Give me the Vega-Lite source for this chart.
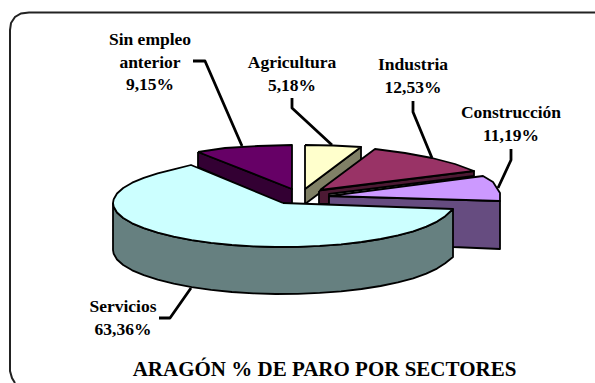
{"$schema":"https://vega.github.io/schema/vega-lite/v6.json","width":595,"height":383,"padding":0,"autosize":{"type":"none"},"background":"white","view":{"stroke":null},
"datasets":{
"faces":[
{"f":"Sin empleo side","n":1,"x":198,"y":152},{"f":"Sin empleo side","n":2,"x":292,"y":189},{"f":"Sin empleo side","n":3,"x":292,"y":204},{"f":"Sin empleo side","n":4,"x":283,"y":204},{"f":"Sin empleo side","n":5,"x":198,"y":167},{"f":"Sin empleo side","n":6,"x":198,"y":152},
{"f":"Sin empleo top","n":1,"x":198,"y":152},{"f":"Sin empleo top","n":2,"x":225,"y":148},{"f":"Sin empleo top","n":3,"x":258,"y":146},{"f":"Sin empleo top","n":4,"x":292,"y":145},{"f":"Sin empleo top","n":5,"x":292,"y":189},{"f":"Sin empleo top","n":6,"x":198,"y":152},
{"f":"Agricultura side","n":1,"x":305,"y":189},{"f":"Agricultura side","n":2,"x":361,"y":147},{"f":"Agricultura side","n":3,"x":361,"y":162},{"f":"Agricultura side","n":4,"x":305,"y":204},{"f":"Agricultura side","n":5,"x":305,"y":189},
{"f":"Agricultura top","n":1,"x":305,"y":145},{"f":"Agricultura top","n":2,"x":333,"y":145.5},{"f":"Agricultura top","n":3,"x":361,"y":147},{"f":"Agricultura top","n":4,"x":305,"y":189},{"f":"Agricultura top","n":5,"x":305,"y":145},
{"f":"Industria side","n":1,"x":319,"y":191},{"f":"Industria side","n":2,"x":323,"y":190},{"f":"Industria side","n":3,"x":474,"y":171},{"f":"Industria side","n":4,"x":474,"y":176},{"f":"Industria side","n":5,"x":329,"y":194},{"f":"Industria side","n":6,"x":329,"y":204},{"f":"Industria side","n":7,"x":319,"y":204},{"f":"Industria side","n":8,"x":319,"y":191},
{"f":"Industria top","n":1,"x":320,"y":190},{"f":"Industria top","n":2,"x":375,"y":149},{"f":"Industria top","n":3,"x":405,"y":153},{"f":"Industria top","n":4,"x":432,"y":158},{"f":"Industria top","n":5,"x":455,"y":164},{"f":"Industria top","n":6,"x":474,"y":171},{"f":"Industria top","n":7,"x":320,"y":190},
{"f":"Construcción side","n":1,"x":329,"y":196},{"f":"Construcción side","n":2,"x":500,"y":201},{"f":"Construcción side","n":3,"x":500,"y":249},{"f":"Construcción side","n":4,"x":453,"y":247},{"f":"Construcción side","n":5,"x":329,"y":220},{"f":"Construcción side","n":6,"x":329,"y":196},
{"f":"Construcción top","n":1,"x":329,"y":196},{"f":"Construcción top","n":2,"x":483,"y":176},{"f":"Construcción top","n":3,"x":493,"y":182},{"f":"Construcción top","n":4,"x":500,"y":193},{"f":"Construcción top","n":5,"x":500,"y":201},{"f":"Construcción top","n":6,"x":329,"y":196},
{"f":"Servicios side","n":1,"x":113,"y":203},{"f":"Servicios side","n":2,"x":113.7,"y":206.8},{"f":"Servicios side","n":3,"x":117,"y":212.5},{"f":"Servicios side","n":4,"x":123.2,"y":218},{"f":"Servicios side","n":5,"x":132.2,"y":223.3},{"f":"Servicios side","n":6,"x":143.8,"y":228.2},{"f":"Servicios side","n":7,"x":157.7,"y":232.7},{"f":"Servicios side","n":8,"x":173.7,"y":236.7},{"f":"Servicios side","n":9,"x":191.7,"y":240.1},{"f":"Servicios side","n":10,"x":211.1,"y":242.9},{"f":"Servicios side","n":11,"x":231.9,"y":245},{"f":"Servicios side","n":12,"x":253.4,"y":246.3},{"f":"Servicios side","n":13,"x":275.6,"y":247},{"f":"Servicios side","n":14,"x":297.8,"y":246.8},{"f":"Servicios side","n":15,"x":319.7,"y":245.9},{"f":"Servicios side","n":16,"x":341.1,"y":244.4},{"f":"Servicios side","n":17,"x":361.5,"y":242},{"f":"Servicios side","n":18,"x":380.6,"y":239},{"f":"Servicios side","n":19,"x":397.9,"y":235.4},{"f":"Servicios side","n":20,"x":413.2,"y":231.3},{"f":"Servicios side","n":21,"x":426.3,"y":226.6},{"f":"Servicios side","n":22,"x":437,"y":221.6},{"f":"Servicios side","n":23,"x":445.2,"y":216.2},{"f":"Servicios side","n":24,"x":453,"y":209},
{"f":"Servicios side","n":25,"x":453,"y":257},{"f":"Servicios side","n":26,"x":445.2,"y":263.2},{"f":"Servicios side","n":27,"x":437,"y":268.6},{"f":"Servicios side","n":28,"x":426.3,"y":273.6},{"f":"Servicios side","n":29,"x":413.2,"y":278.3},{"f":"Servicios side","n":30,"x":397.9,"y":282.4},{"f":"Servicios side","n":31,"x":380.6,"y":286},{"f":"Servicios side","n":32,"x":361.5,"y":289},{"f":"Servicios side","n":33,"x":341.1,"y":291.4},{"f":"Servicios side","n":34,"x":319.7,"y":292.9},{"f":"Servicios side","n":35,"x":297.8,"y":293.8},{"f":"Servicios side","n":36,"x":275.6,"y":294},{"f":"Servicios side","n":37,"x":253.4,"y":293.3},{"f":"Servicios side","n":38,"x":231.9,"y":292},{"f":"Servicios side","n":39,"x":211.1,"y":289.9},{"f":"Servicios side","n":40,"x":191.7,"y":287.1},{"f":"Servicios side","n":41,"x":173.7,"y":283.7},{"f":"Servicios side","n":42,"x":157.7,"y":279.7},{"f":"Servicios side","n":43,"x":143.8,"y":275.2},{"f":"Servicios side","n":44,"x":132.2,"y":270.3},{"f":"Servicios side","n":45,"x":123.2,"y":265},{"f":"Servicios side","n":46,"x":117,"y":259.5},{"f":"Servicios side","n":47,"x":113.7,"y":253.8},{"f":"Servicios side","n":48,"x":113,"y":250},{"f":"Servicios side","n":49,"x":113,"y":203},
{"f":"Servicios top","n":1,"x":283,"y":203},{"f":"Servicios top","n":2,"x":191,"y":165},{"f":"Servicios top","n":3,"x":173.7,"y":169.3},{"f":"Servicios top","n":4,"x":157.7,"y":173.3},{"f":"Servicios top","n":5,"x":143.8,"y":177.8},{"f":"Servicios top","n":6,"x":132.2,"y":182.7},{"f":"Servicios top","n":7,"x":123.2,"y":188},{"f":"Servicios top","n":8,"x":117,"y":193.5},{"f":"Servicios top","n":9,"x":113.7,"y":199.2},{"f":"Servicios top","n":10,"x":113,"y":203},{"f":"Servicios top","n":11,"x":113.7,"y":206.8},{"f":"Servicios top","n":12,"x":117,"y":212.5},{"f":"Servicios top","n":13,"x":123.2,"y":218},{"f":"Servicios top","n":14,"x":132.2,"y":223.3},{"f":"Servicios top","n":15,"x":143.8,"y":228.2},{"f":"Servicios top","n":16,"x":157.7,"y":232.7},{"f":"Servicios top","n":17,"x":173.7,"y":236.7},{"f":"Servicios top","n":18,"x":191.7,"y":240.1},{"f":"Servicios top","n":19,"x":211.1,"y":242.9},{"f":"Servicios top","n":20,"x":231.9,"y":245},{"f":"Servicios top","n":21,"x":253.4,"y":246.3},{"f":"Servicios top","n":22,"x":275.6,"y":247},{"f":"Servicios top","n":23,"x":297.8,"y":246.8},{"f":"Servicios top","n":24,"x":319.7,"y":245.9},{"f":"Servicios top","n":25,"x":341.1,"y":244.4},{"f":"Servicios top","n":26,"x":361.5,"y":242},{"f":"Servicios top","n":27,"x":380.6,"y":239},{"f":"Servicios top","n":28,"x":397.9,"y":235.4},{"f":"Servicios top","n":29,"x":413.2,"y":231.3},{"f":"Servicios top","n":30,"x":426.3,"y":226.6},{"f":"Servicios top","n":31,"x":437,"y":221.6},{"f":"Servicios top","n":32,"x":445.2,"y":216.2},{"f":"Servicios top","n":33,"x":453,"y":209},{"f":"Servicios top","n":34,"x":283,"y":203}
],
"leaders":[
{"s":"Sin empleo anterior","n":1,"x":193,"y":61},{"s":"Sin empleo anterior","n":2,"x":205,"y":61},{"s":"Sin empleo anterior","n":3,"x":242,"y":146},
{"s":"Agricultura","n":1,"x":292,"y":98},{"s":"Agricultura","n":2,"x":292,"y":108},{"s":"Agricultura","n":3,"x":332,"y":145},
{"s":"Industria","n":1,"x":413,"y":101},{"s":"Industria","n":2,"x":413,"y":112},{"s":"Industria","n":3,"x":432,"y":158},
{"s":"Construcción","n":1,"x":511,"y":149},{"s":"Construcción","n":2,"x":511,"y":160},{"s":"Construcción","n":3,"x":498,"y":188},
{"s":"Servicios","n":1,"x":159,"y":318},{"s":"Servicios","n":2,"x":170,"y":318},{"s":"Servicios","n":3,"x":191,"y":288}
],
"frame":[
{"n":1,"x":15,"y":383},{"n":2,"x":12,"y":378},{"n":3,"x":10,"y":371},{"n":4,"x":10,"y":30},{"n":5,"x":11,"y":23},{"n":6,"x":15,"y":17},{"n":7,"x":21,"y":13.5},{"n":8,"x":29,"y":12.5},{"n":9,"x":595,"y":12.5}
],
"labels":[
{"sector":"Sin empleo anterior","pct":9.15,"text":"Sin empleo\nanterior\n9,15%","x":150,"y":45},
{"sector":"Agricultura","pct":5.18,"text":"Agricultura\n5,18%","x":292,"y":68},
{"sector":"Industria","pct":12.53,"text":"Industria\n12,53%","x":413,"y":70},
{"sector":"Construcción","pct":11.19,"text":"Construcción\n11,19%","x":511,"y":118},
{"sector":"Servicios","pct":63.36,"text":"Servicios\n63,36%","x":123,"y":312}
],
"title":[{"text":"ARAGÓN % DE PARO POR SECTORES","x":324.5,"y":376}]
},
"encoding":{
"x":{"field":"x","type":"quantitative","scale":{"domain":[0,595],"nice":false,"zero":false},"axis":null},
"y":{"field":"y","type":"quantitative","scale":{"domain":[383,0],"nice":false,"zero":false},"axis":null}
},
"layer":[
{"data":{"name":"frame"},"mark":{"type":"line","stroke":"#222222","strokeWidth":2,"clip":false},"encoding":{"order":{"field":"n"}}},
{"data":{"name":"faces"},"mark":{"type":"line","stroke":"black","strokeWidth":1.8,"strokeJoin":"round"},"encoding":{"order":{"field":"n"},"detail":{"field":"f"},
"fill":{"field":"f","type":"nominal","legend":null,"scale":{"domain":["Sin empleo side","Sin empleo top","Agricultura side","Agricultura top","Industria side","Industria top","Construcción side","Construcción top","Servicios side","Servicios top"],"range":["#330033","#660066","#808066","#FFFFCC","#4C1933","#993366","#664C80","#CC99FF","#668080","#CCFFFF"]}}}},
{"data":{"name":"leaders"},"mark":{"type":"line","stroke":"black","strokeWidth":2.8,"strokeJoin":"round"},"encoding":{"order":{"field":"n"},"detail":{"field":"s"}}},
{"data":{"name":"labels"},"mark":{"type":"text","font":"Liberation Serif","fontWeight":"bold","fontSize":17.5,"lineBreak":"\n","lineHeight":22.5,"align":"center","baseline":"alphabetic","color":"black"},"encoding":{"text":{"field":"text"}}},
{"data":{"name":"title"},"mark":{"type":"text","font":"Liberation Serif","fontWeight":"bold","fontSize":21,"align":"center","baseline":"alphabetic","color":"black"},"encoding":{"text":{"field":"text"}}}
]}
